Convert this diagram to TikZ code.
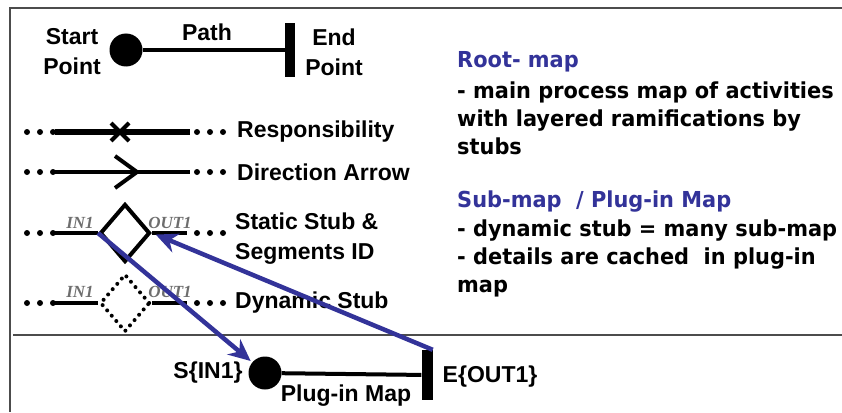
\documentclass[tikz,border=0pt]{standalone}
\usepackage{fontspec}
\setmainfont{Liberation Sans}
\newfontfamily\idfont{Liberation Serif}
\newfontfamily\notefont[FakeStretch=0.95]{DejaVu Sans}
\usepackage{tikz}
\usetikzlibrary{arrows.meta,positioning,calc,shapes.geometric}
\definecolor{mapblue}{RGB}{51,51,153}
\definecolor{idgray}{RGB}{110,110,110}

\begin{document}
\begin{tikzpicture}[x=1pt,y=-1pt]
	\tikzstyle{every node}=[font=\bfseries\fontsize{23}{30}\selectfont, inner sep=0pt]
	\tikzstyle{seg}=[line width=4pt]
	\tikzstyle{idlabel}=[font=\idfont\bfseries\itshape\fontsize{17}{17}\selectfont, text=idgray]
	\tikzstyle{bluearrow}=[line width=4.5pt, color=mapblue, -{Stealth[length=22pt,width=20pt]}]
	\tikzstyle{righttext}=[anchor=west, align=left, font=\notefont\bfseries\fontsize{22}{27.7}\selectfont]
	\useasboundingbox (0,0) rectangle (842,412);
	
	% frame
	\draw[line width=1.5pt, black!70] (842,8) -- (10,8) -- (10,412);
	\draw[line width=1.5pt, black!70] (13,335) -- (842,335);
	
	% start point, path, end point
	\node[circle, fill, minimum size=33pt] (start) at (126,50) {};
	\node[fill, minimum width=10pt, minimum height=54pt] (end) at (290,50) {};
	\draw[seg] (start) -- (end);
	\node[align=center] (startlbl) at (72,52) {Start\\Point};
	\node (pathlbl) at (207,32) {Path};
	\node[align=center] (endlbl) at (334,52) {End\\Point};
	
	% responsibility
	\foreach \x in {27,40,53,197,210,223} \fill (\x,132) circle (3pt);
	\coordinate (respa) at (55,132);
	\coordinate (respb) at (190,132);
	\draw[line width=6pt] (respa) -- (respb);
	\draw[line width=4pt] (111,123) -- (129,141) (111,141) -- (129,123);
	\node[anchor=west] (resp) at (237,132) {Responsibility};
	
	% direction arrow
	\foreach \x in {27,40,53,197,210,223} \fill (\x,172) circle (3pt);
	\coordinate (dira) at (55,172);
	\coordinate (dirb) at (190,172);
	\draw[seg] (dira) -- (dirb);
	\draw[line width=4pt] (115,156) -- (137,172) -- (115,188);
	\node[anchor=west] (dir) at (237,172) {Direction Arrow};
	
	% static stub
	\foreach \x in {27,40,53,197,210,223} \fill (\x,233) circle (3pt);
	\node[diamond, draw, line width=4pt, minimum width=50pt, minimum height=58pt] (stub) at (125,233) {};
	\coordinate (stuba) at (55,233);
	\coordinate (stubb) at (187,233);
	\draw[seg] (stuba) -- (stub.west);
	\draw[seg] (stub.east) -- (stubb);
	\node[idlabel] (in1) at (80,223) {IN1};
	\node[idlabel] (out1) at (170,223) {OUT1};
	\node[anchor=west, align=left] (stat) at (235,239) {Static Stub \&\\Segments ID};
	
	% dynamic stub
	\foreach \x in {27,40,53,197,210,223} \fill (\x,303) circle (3pt);
	\node[diamond, draw, line width=4pt, dash pattern=on 0pt off 7pt, line cap=round, minimum width=50pt, minimum height=58pt] (dstub) at (125,303) {};
	\coordinate (dstuba) at (55,303);
	\coordinate (dstubb) at (187,303);
	\draw[seg] (dstuba) -- (dstub.west);
	\draw[seg] (dstub.east) -- (dstubb);
	\node[idlabel] (din1) at (80,292) {IN1};
	\node[idlabel] (dout1) at (170,292) {OUT1};
	\node[anchor=west] (dyn) at (235,303) {Dynamic Stub};
	
	% plug-in map
	\node[circle, fill, minimum size=33pt] (pstart) at (265,373) {};
	\node[fill, minimum width=11pt, minimum height=50pt] (pend) at (427,375) {};
	\draw[seg] (pstart) -- (pend);
	\node (pstartlbl) at (208,373) {S\{IN1\}};
	\node (plbl) at (346,396) {Plug-in Map};
	\node (pendlbl) at (490,377) {E\{OUT1\}};
	
	% blue connectors
	\draw[bluearrow, shorten >=2pt] (stub.west) -- (pstart);
	\draw[bluearrow, shorten >=4pt] (pend.north east) -- (stub.east);
	
	% explanations
	\node[righttext, text=mapblue] (root) at (457,62) {Root- map};
	\node[righttext, anchor=north west] (rootdesc) at (457,82) { - main process map of activities\\with layered ramifications by\\stubs};
	\node[righttext, text=mapblue] (sub) at (457,202) {Sub-map \ / Plug-in Map};
	\node[righttext, anchor=north west] (subdesc) at (457,220) {- dynamic stub = many sub-map\\- details are cached \ in plug-in\\map};
\end{tikzpicture}
\end{document}
